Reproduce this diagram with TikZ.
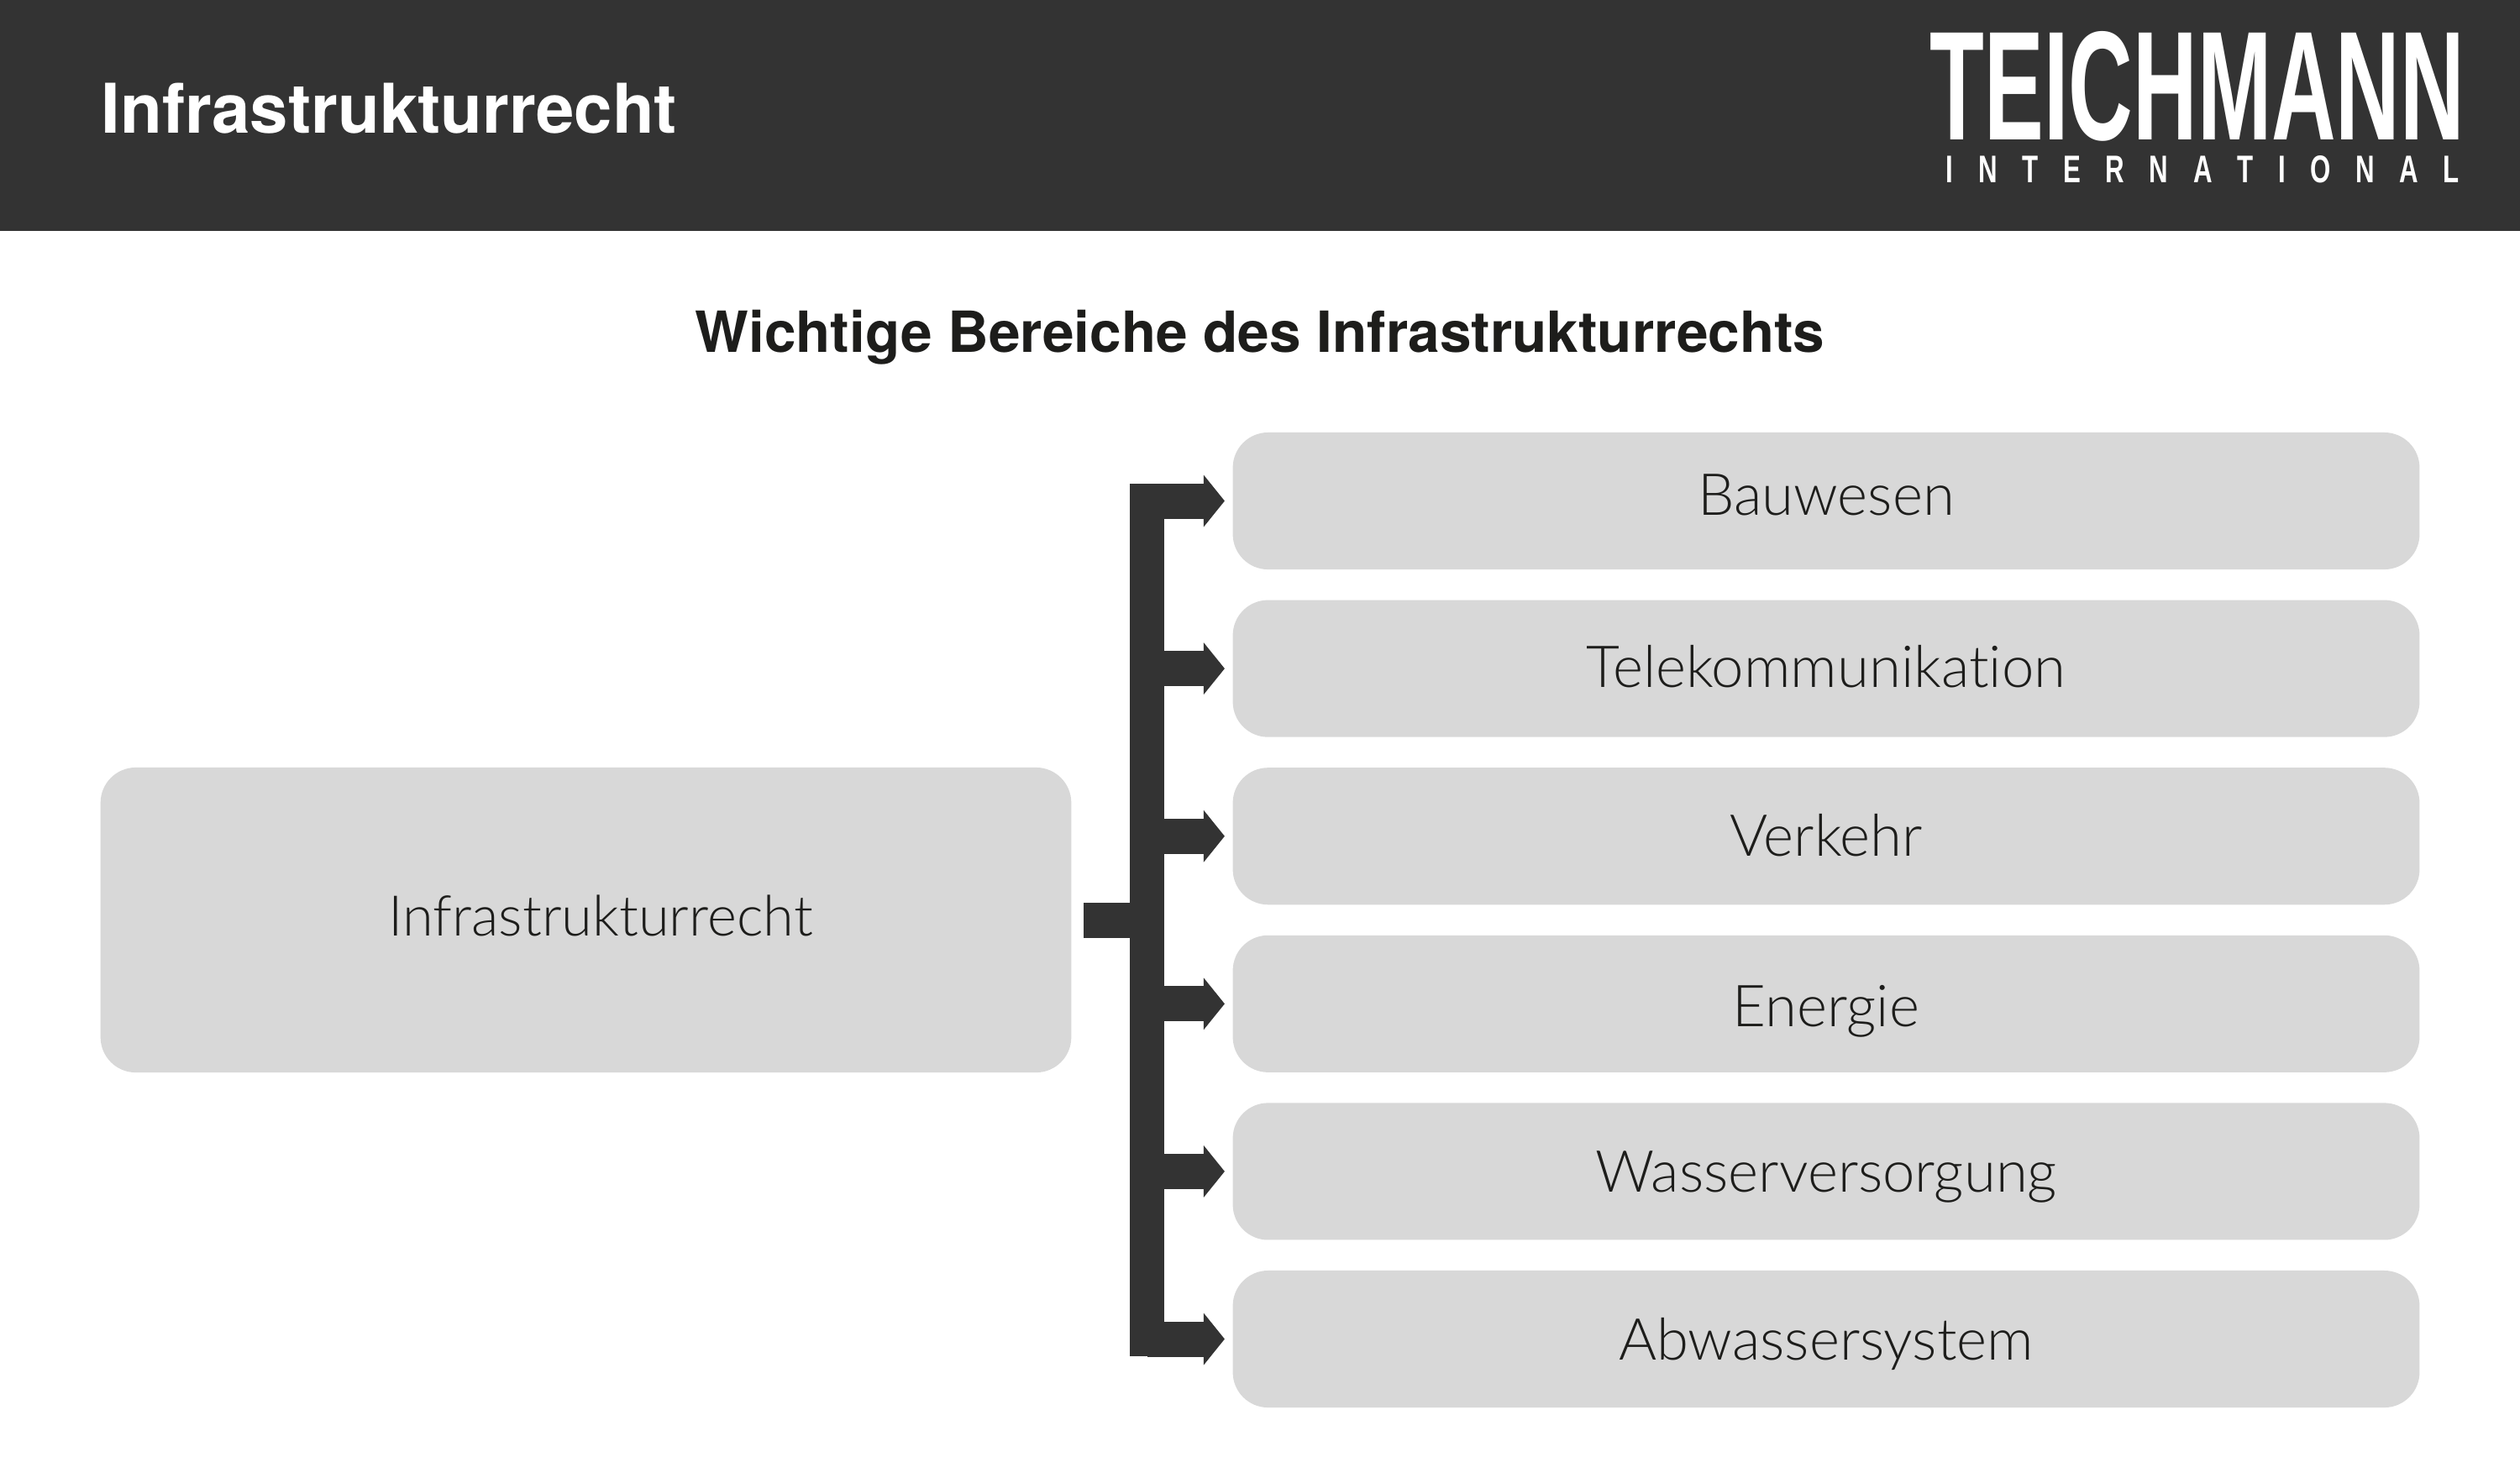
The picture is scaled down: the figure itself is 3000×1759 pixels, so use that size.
\documentclass[tikz,border=0pt]{standalone}
\usepackage{fontspec}
\setmainfont{TeX Gyre Heros}
\newfontfamily\boxfont[Ligatures=NoCommon]{Lato Light}
\newfontfamily\logofont[Kerning=Off]{Liberation Sans}
\usepackage{tikz}
\usetikzlibrary{arrows.meta}
\definecolor{headgray}{HTML}{333333}
\definecolor{boxgray}{HTML}{D8D8D8}
\definecolor{inkblack}{HTML}{1D1D1B}
\tikzset{
    rightbox/.style={fill=boxgray, rounded corners=0.42cm, minimum width=14.12cm, minimum height=1.63cm, inner sep=0pt},
    boxlabel/.style={anchor=base, inner sep=0pt, text=inkblack, font=\boxfont\fontsize{19.6}{19.6}\selectfont},
    branch/.style={draw=headgray, line width=0.42cm, -{Triangle[length=0.25cm,width=0.62cm,line width=0pt]}, shorten >=0.09cm}
}
\begin{document}
\begin{tikzpicture}[x=0.01cm,y=-0.01cm]
    \useasboundingbox (0,0) rectangle (3000,1759);
    % Header
    \fill[headgray] (0,0) rectangle (3000,275);
    \node[anchor=base west, text=white, inner sep=0pt, font=\bfseries\fontsize{23.2}{23.2}\selectfont] (title) at (120,158) {Infrastrukturrecht};
    \node[anchor=south west, inner sep=0pt, text=white] (logo) at (2297,169) {\resizebox{6.36cm}{1.29cm}{\logofont\bfseries TEICHMANN}};
    \node[anchor=south west, inner sep=0pt, text=white] (logosub) at (2316,219) {\resizebox{6.11cm}{0.32cm}{\logofont\bfseries\addfontfeature{LetterSpace=95}INTERNATIONA\hspace{0.95em}L}};
    \node[anchor=base, text=inkblack, inner sep=0pt, font=\bfseries\fontsize{19.2}{19.2}\selectfont] (heading) at (1500,419) {Wichtige Bereiche des Infrastrukturrechts};
    % Left box
    \node[rightbox, minimum width=11.55cm, minimum height=3.63cm] (root) at (697.5,1095.5) {};
    \node[boxlabel, font=\boxfont\fontsize{19}{19}\selectfont] (rootlabel) at (715,1114) {Infrastrukturrecht};
    % Right boxes with arrows
    \coordinate (trunk) at (1365.5,0);
    \foreach \name/\txt/\base [count=\i] in {bau/Bauwesen/613,tele/Telekommunikation/818,verkehr/Verkehr/1019,energie/Energie/1222,wasser/Wasserversorgung/1419,abwasser/Abwassersystem/1619} {
        \node[rightbox] (\name) at (2174,396.9+\i*199.6) {};
        \node[boxlabel] (\name label) at (2174,\base) {\txt};
        \draw[branch] (trunk |- \name.west) -- (\name.west);
    }
    \coordinate (trunktop) at (trunk |- 0,576);
    \coordinate (trunkbot) at (trunk |- 0,1615);
    \draw[headgray, line width=0.41cm] (trunktop) -- (trunkbot);
    \coordinate (stub) at (trunk |- root.east);
    \draw[headgray, line width=0.42cm, shorten <=0.14cm] (root.east) -- (stub);
\end{tikzpicture}
\end{document}
